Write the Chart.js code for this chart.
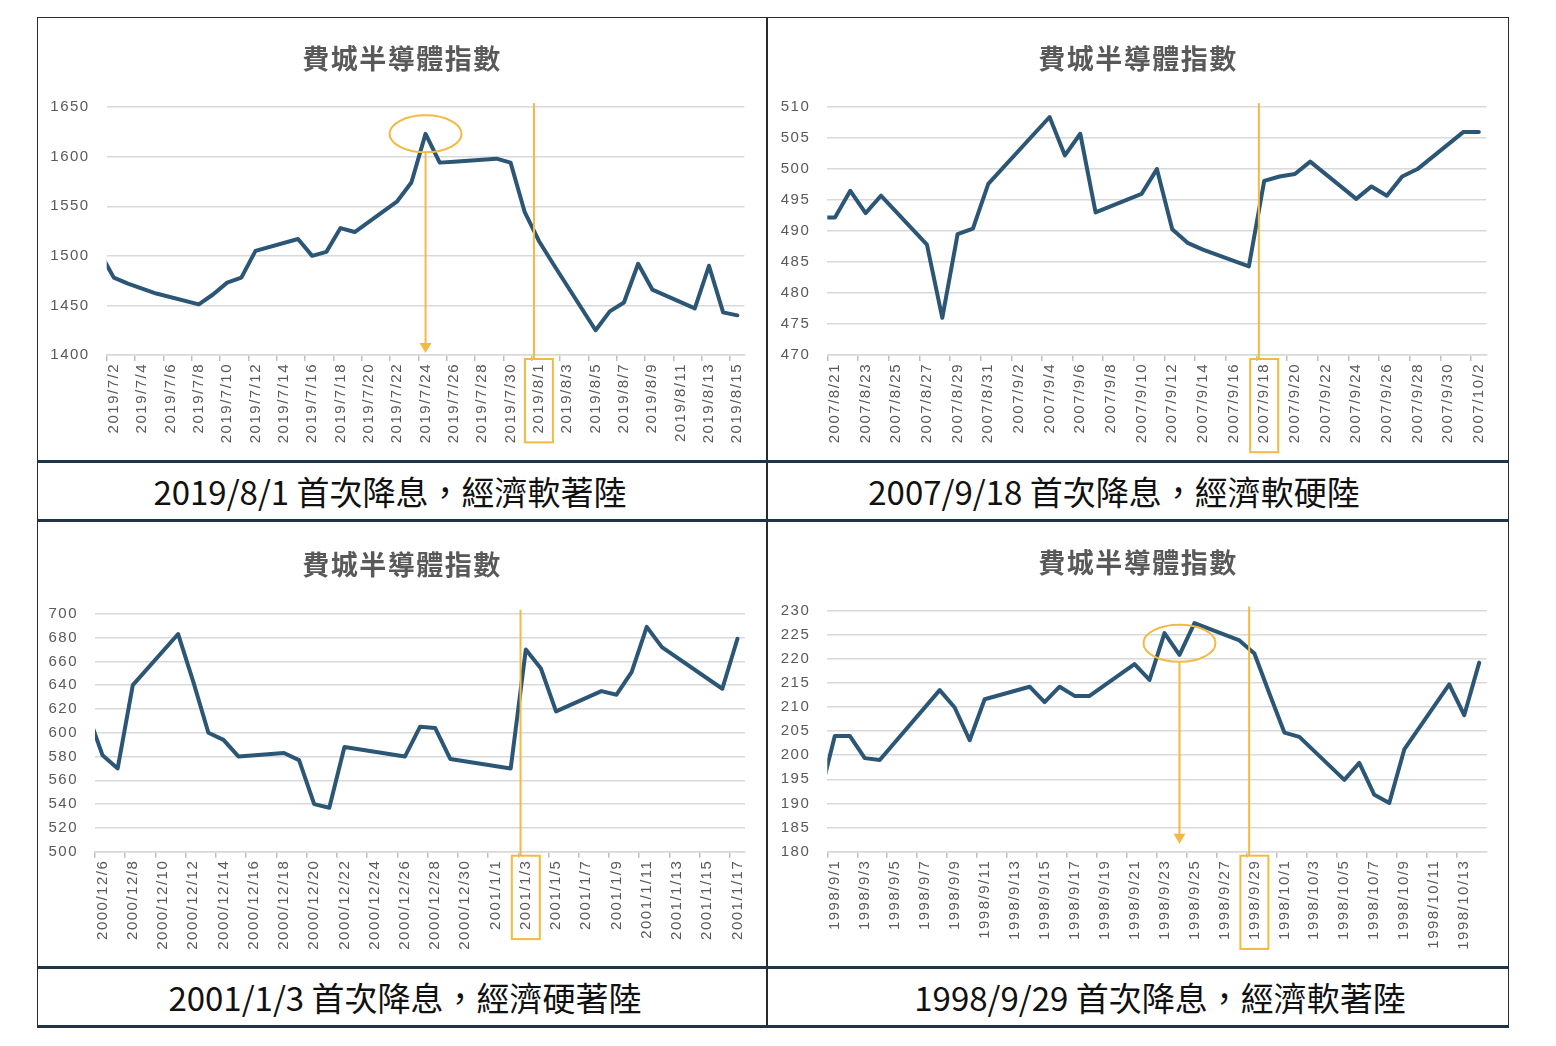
<!DOCTYPE html>
<html lang="zh-Hant"><head><meta charset="utf-8">
<script src="https://cdn.jsdelivr.net/npm/chart.js@4.4.1/dist/chart.umd.min.js"></script>
<style>
html,body{margin:0;padding:0;background:#fff;}
body{width:1556px;height:1046px;position:relative;overflow:hidden;font-family:'Noto Sans CJK TC',sans-serif;}
#frame{position:absolute;left:37px;top:17px;width:1472px;height:1011px;border:1.5px solid #2b2b2b;box-sizing:border-box;}
#vdiv{position:absolute;left:766px;top:17px;width:2px;height:1011px;background:#2b2b2b;}
.capbar{position:absolute;left:37px;width:1472px;height:62px;border-top:3px solid #1f3447;border-bottom:3px solid #1f3447;box-sizing:border-box;}
.ct{position:absolute;height:56px;line-height:56px;text-align:center;font-size:33px;color:#111;white-space:nowrap;}
.panel{position:absolute;}
</style></head>
<body>
<div id="frame"></div>
<div id="vdiv"></div>
<div class="panel" style="left:38px;top:18px;width:728px;height:442px"><canvas id="c1" width="728" height="442"></canvas></div>
<div class="panel" style="left:768px;top:18px;width:740px;height:442px"><canvas id="c2" width="740" height="442"></canvas></div>
<div class="panel" style="left:38px;top:524px;width:728px;height:442px"><canvas id="c3" width="728" height="442"></canvas></div>
<div class="panel" style="left:768px;top:524px;width:740px;height:442px"><canvas id="c4" width="740" height="442"></canvas></div>
<div class="capbar" style="top:460px"></div>
<div class="capbar" style="top:966px"></div>
<div class="ct" style="left:37px;width:706px;top:463px">2019/8/1 首次降息，經濟軟著陸</div>
<div class="ct" style="left:767px;width:694px;top:463px">2007/9/18 首次降息，經濟軟硬陸</div>
<div class="ct" style="left:37px;width:736px;top:969px">2001/1/3 首次降息，經濟硬著陸</div>
<div class="ct" style="left:767px;width:786px;top:969px">1998/9/29 首次降息，經濟軟著陸</div>
<script>
// ---------- DATA ----------
const chartTitle = '費城半導體指數';

// Panel 1: 2019
const p1Dates = ['2019/7/1','2019/7/2','2019/7/3','2019/7/5','2019/7/8','2019/7/9','2019/7/10','2019/7/11','2019/7/12',
  '2019/7/15','2019/7/16','2019/7/17','2019/7/18','2019/7/19','2019/7/22','2019/7/23','2019/7/24','2019/7/25','2019/7/26',
  '2019/7/29','2019/7/30','2019/7/31','2019/8/1','2019/8/2','2019/8/5','2019/8/6','2019/8/7','2019/8/8','2019/8/9',
  '2019/8/12','2019/8/13','2019/8/14','2019/8/15'];
const p1Values = [1504,1478,1472,1462,1451,1461,1473,1478,1505,
  1517,1500,1504,1528,1524,1555,1574,1623,1594,1595,
  1598,1594,1544,1515,1492,1425,1444,1453,1492,1466,
  1447,1490,1443,1440];
const p1YTicks = [1400,1650,50];
const p1Event = '2019/8/1';
const p1Peak = ['2019/7/24',1623];

// Panel 2: 2007
const p2Dates = ['2007/8/20','2007/8/21','2007/8/22','2007/8/23','2007/8/24','2007/8/27','2007/8/28','2007/8/29','2007/8/30',
  '2007/8/31','2007/9/4','2007/9/5','2007/9/6','2007/9/7','2007/9/10','2007/9/11','2007/9/12','2007/9/13','2007/9/14',
  '2007/9/17','2007/9/18','2007/9/19','2007/9/20','2007/9/21','2007/9/24','2007/9/25','2007/9/26','2007/9/27','2007/9/28',
  '2007/10/1','2007/10/2'];
const p2Values = [492.2,492.2,496.5,492.9,495.7,487.8,476.0,489.5,490.4,
  497.6,508.4,502.2,505.7,493.0,496.0,500.0,490.3,488.1,487.0,
  484.3,498.1,498.8,499.2,501.2,495.2,497.2,495.7,498.8,500.0,
  506.0,506.0];
const p2YTicks = [470,510,5];
const p2Event = '2007/9/18';

// Panel 3: 2000-2001
const p3Dates = ['2000/12/5','2000/12/6','2000/12/7','2000/12/8','2000/12/11','2000/12/12','2000/12/13','2000/12/14','2000/12/15',
  '2000/12/18','2000/12/19','2000/12/20','2000/12/21','2000/12/22','2000/12/26','2000/12/27','2000/12/28','2000/12/29',
  '2001/1/2','2001/1/3','2001/1/4','2001/1/5','2001/1/8','2001/1/9','2001/1/10','2001/1/11','2001/1/12','2001/1/16','2001/1/17'];
const p3Values = [617,581,570,640,683,643,600,594,580,
  583,577,540,537,588,580,605,604,578,
  570,670,654,618,635,632,651,689,672,637,679];
const p3YTicks = [500,700,20];
const p3Event = '2001/1/3';

// Panel 4: 1998
const p4Dates = ['1998/8/31','1998/9/1','1998/9/2','1998/9/3','1998/9/4','1998/9/8','1998/9/9','1998/9/10','1998/9/11',
  '1998/9/14','1998/9/15','1998/9/16','1998/9/17','1998/9/18','1998/9/21','1998/9/22','1998/9/23','1998/9/24','1998/9/25',
  '1998/9/28','1998/9/29','1998/9/30','1998/10/1','1998/10/2','1998/10/5','1998/10/6','1998/10/7','1998/10/8','1998/10/9',
  '1998/10/12','1998/10/13','1998/10/14'];
const p4Values = [191.5,204.0,204.0,199.4,199.0,213.5,209.9,203.1,211.6,
  214.2,211.0,214.2,212.3,212.3,218.9,215.6,225.3,220.8,227.4,
  223.8,221.1,212.8,204.7,203.8,194.9,198.4,191.8,190.1,201.2,
  214.7,208.3,219.2];
const p4YTicks = [180,230,5];
const p4Event = '1998/9/29';
const p4Peak = ['1998/9/24',223.2];

// ---------- HELPERS ----------
const LINE = '#2b5675', ORANGE = '#f4b942', GRID = '#d9d9d9', TXT = '#595959';
const SPACE = '1.5px';
const TICKFONT = {family:"'Liberation Sans', Arial, sans-serif", size:15};

function calendar(first, last) {
  const a = first.split('/').map(Number), b = last.split('/').map(Number);
  const t = new Date(a[0], a[1]-1, a[2]), end = new Date(b[0], b[1]-1, b[2]);
  const out = [];
  while (t <= end) { out.push(t.getFullYear()+'/'+(t.getMonth()+1)+'/'+t.getDate()); t.setDate(t.getDate()+1); }
  return out;
}

const spacingPlugin = {
  id:'spacing',
  beforeUpdate(c){ c.ctx.letterSpacing = SPACE; },
  beforeLayout(c){ c.ctx.letterSpacing = SPACE; },
  beforeDraw(c){ c.ctx.letterSpacing = SPACE; }
};

const annotPlugin = {
  id:'annot',
  afterDraw(chart, args, o) {
    if (!o || !o.event) return;
    const {ctx, chartArea} = chart;
    const x = chart.scales.x, y = chart.scales.y;
    const labels = x.getLabels();
    const step = x.getPixelForValue(1) - x.getPixelForValue(0);
    ctx.save();
    ctx.letterSpacing = SPACE;
    ctx.strokeStyle = ORANGE; ctx.fillStyle = ORANGE; ctx.lineWidth = 2;
    const ei = labels.indexOf(o.event);
    const cx = x.getPixelForValue(ei);
    ctx.font = TICKFONT.size + 'px ' + TICKFONT.family;
    const tw = ctx.measureText(o.event).width;
    const bTop = chartArea.bottom + 4;
    const bBot = chartArea.bottom + 6 + 2 + tw + 9;
    ctx.strokeRect(cx - 14, bTop, 28, bBot - bTop);
    const lx = cx - 0.35 * step;
    ctx.beginPath(); ctx.moveTo(lx, chartArea.top - 4); ctx.lineTo(lx, bTop); ctx.stroke();
    if (o.peak) {
      const px = x.getPixelForValue(labels.indexOf(o.peak[0]));
      const py = y.getPixelForValue(o.peak[1]);
      const rx = 36, ry = 18.5;
      ctx.beginPath(); ctx.ellipse(px, py, rx, ry, 0, 0, Math.PI*2); ctx.stroke();
      const tip = chartArea.bottom - o.tipGap;
      ctx.beginPath(); ctx.moveTo(px, py + ry); ctx.lineTo(px, tip - 8); ctx.stroke();
      ctx.beginPath(); ctx.moveTo(px - 6, tip - 10); ctx.lineTo(px + 6, tip - 10); ctx.lineTo(px, tip); ctx.closePath(); ctx.fill();
    }
    ctx.restore();
  }
};

function makeChart(id, dates, values, yt, geo, ann) {
  const cal = calendar(dates[0], dates[dates.length-1]);
  const data = cal.map(l => { const i = dates.indexOf(l); return i < 0 ? null : values[i]; });
  return new Chart(document.getElementById(id), {
    type:'line',
    data:{ labels: cal, datasets:[{ data, borderColor: LINE, borderWidth: 4, pointRadius: 0, pointHoverRadius: 0,
      tension: 0, spanGaps: true, borderJoinStyle:'round', borderCapStyle:'round' }] },
    options:{
      responsive:false, animation:false, devicePixelRatio:1,
      layout:{ padding:0 },
      plugins:{
        legend:{display:false}, tooltip:{enabled:false},
        title:{ display:true, text: chartTitle, color: TXT,
          font:{ family:"'Noto Sans CJK TC', sans-serif", size:27, weight:'bold', lineHeight:1.2 },
          padding:{ top: geo.tTop, bottom: geo.tBot } },
        annot: ann
      },
      scales:{
        x:{
          type:'category', offset:true, min: cal[1],
          afterFit(s){ s.height = geo.xH; },
          grid:{ display:true, drawOnChartArea:false, drawTicks:true, tickLength:6, offset:true, lineWidth:1.5,
            color:(c) => (c.tick && c.index % 2 === 0) ? '#bfbfbf' : 'rgba(0,0,0,0)' },
          border:{ display:true, color: GRID, width:1.5 },
          ticks:{ autoSkip:false, maxRotation:90, minRotation:90, padding:2, color: TXT, font: TICKFONT,
            callback(v, i){ return i % 2 === 0 ? this.getLabelForValue(v) : ''; } }
        },
        y:{
          min: yt[0], max: yt[1],
          afterFit(s){ s.width = geo.yW; },
          grid:{ color: GRID, lineWidth:1.5, drawTicks:false },
          border:{ display:false },
          ticks:{ stepSize: yt[2], padding:17, color: TXT, font: TICKFONT,
            callback(v){ return String(v); } }
        },
        yR:{
          position:'right', display:true, min: yt[0], max: yt[1],
          afterFit(s){ s.width = geo.padR; },
          grid:{ display:false, drawTicks:false }, border:{ display:false },
          ticks:{ display:false }
        }
      }
    },
    plugins:[spacingPlugin, annotPlugin]
  });
}

makeChart('c1', p1Dates, p1Values, p1YTicks, {yW:68.7, xH:105, padR:21.6, tTop:24.2, tBot:32.5},
  {event:p1Event, peak:p1Peak, tipGap:2});
makeChart('c2', p2Dates, p2Values, p2YTicks, {yW:59.3, xH:105, padR:21.5, tTop:24.2, tBot:32.5},
  {event:p2Event});
makeChart('c3', p3Dates, p3Values, p3YTicks, {yW:57, xH:114.3, padR:21, tTop:24.2, tBot:33.2},
  {event:p3Event});
makeChart('c4', p4Dates, p4Values, p4YTicks, {yW:59.3, xH:114.3, padR:21.3, tTop:22.2, tBot:31.9},
  {event:p4Event, peak:p4Peak, tipGap:8});
</script>
</body></html>
